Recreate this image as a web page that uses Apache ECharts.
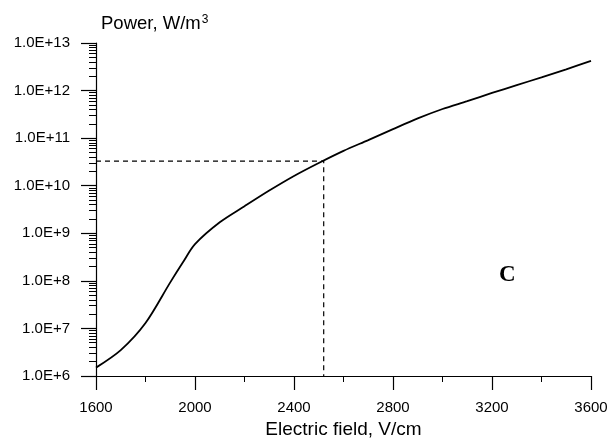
<!DOCTYPE html>
<html>
<head>
<meta charset="utf-8">
<script src="https://cdn.jsdelivr.net/npm/echarts@6/dist/echarts.min.js"></script>
<style>html,body{margin:0;padding:0;background:#fff}#c{width:612px;height:448px}</style>
</head>
<body>
<div id="c"></div>
<script>
// Data
const fieldValues = [1600, 1700, 1800, 1900, 1950, 2000, 2100, 2200, 2300, 2400, 2500, 2600, 2700, 2800, 2900, 3000, 3100, 3200, 3300, 3400, 3500, 3600];
const powerValues = [1.5e6, 3.5e6, 1.3e7, 9.3e7, 2.4e8, 5.9e8, 1.7e9, 3.7e9, 7.9e9, 1.6e10, 3.0e10, 5.4e10, 9.1e10, 1.55e11, 2.6e11, 4.1e11, 6.0e11, 8.9e11, 1.3e12, 1.9e12, 2.8e12, 4.2e12];
const guideX = [1600, 2520, 2520];
const guideY = [3.3e10, 3.3e10, 1e6];
const xTicks = [1600, 2000, 2400, 2800, 3200, 3600];
const yTickExponents = [6, 7, 8, 9, 10, 11, 12, 13];

const font = '"Liberation Sans", Arial, sans-serif';
const chart = echarts.init(document.getElementById('c'), null, {renderer: 'canvas'});
chart.setOption({
  animation: false,
  backgroundColor: '#fff',
  title: {
    text: 'Power, W/m{sup|3}',
    left: 96, top: 9,
    textStyle: {
      fontFamily: font, fontSize: 18.5, fontWeight: 'normal', color: '#000',
      rich: {sup: {fontFamily: font, fontSize: 12, color: '#000', verticalAlign: 'top', padding: [0, 0, 8, 1]}}
    }
  },
  grid: {left: 96, right: 21, top: 43, bottom: 72},
  xAxis: {
    type: 'value', min: xTicks[0], max: xTicks[xTicks.length - 1], interval: 400,
    name: 'Electric field, V/cm', nameLocation: 'middle', nameGap: 42,
    nameTextStyle: {fontFamily: font, fontSize: 19, color: '#000'},
    axisLine: {show: true, onZero: false, lineStyle: {color: '#000', width: 1.2}},
    axisTick: {show: true, length: 14, lineStyle: {color: '#000', width: 1.2}},
    minorTick: {show: true, splitNumber: 2, length: 6, lineStyle: {color: '#000', width: 1}},
    axisLabel: {fontFamily: font, fontSize: 15, color: '#000', margin: 24, formatter: v => String(v)},
    splitLine: {show: false}
  },
  yAxis: {
    type: 'log', logBase: 10, min: Math.pow(10, yTickExponents[0]), max: Math.pow(10, yTickExponents[yTickExponents.length - 1]),
    interval: 1,
    axisLine: {show: true, onZero: false, lineStyle: {color: '#000', width: 1.2}},
    axisTick: {show: true, length: 15, lineStyle: {color: '#000', width: 1.2}},
    minorTick: {show: true, splitNumber: 9, length: 7, lineStyle: {color: '#000', width: 1}},
    axisLabel: {
      fontFamily: font, fontSize: 15, color: '#000', margin: 26,
      formatter: v => '1.0E+' + Math.round(Math.log10(v))
    },
    splitLine: {show: false}
  },
  graphic: [{
    type: 'text', left: 499, top: 264,
    style: {text: 'C', font: 'bold 23px "Liberation Serif", serif', fill: '#000'}
  }],
  series: [
    {
      type: 'line', data: fieldValues.map((x, i) => [x, powerValues[i]]),
      smooth: 0.3, showSymbol: false, lineStyle: {color: '#000', width: 1.8}, z: 3
    },
    {
      type: 'line', data: guideX.map((x, i) => [x, guideY[i]]),
      showSymbol: false, lineStyle: {color: '#000', width: 1.2, type: [5, 4]}, z: 2
    }
  ]
});
</script>
</body>
</html>
